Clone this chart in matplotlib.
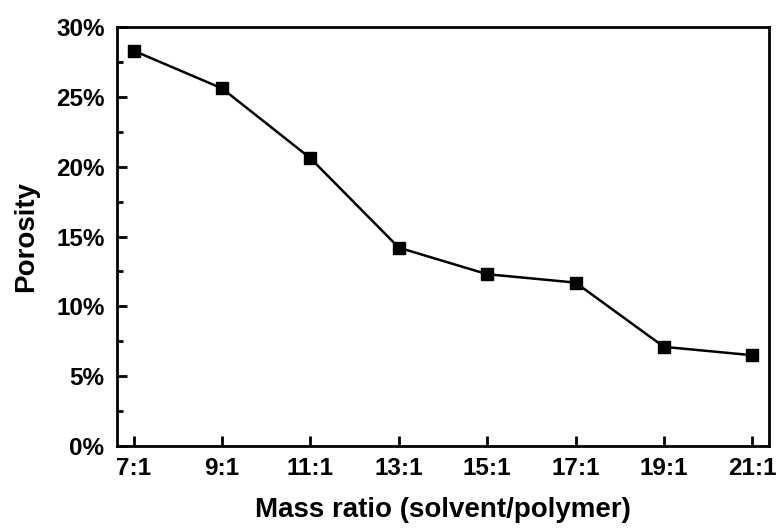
import matplotlib.pyplot as plt
from matplotlib.ticker import MultipleLocator, FuncFormatter

ratios = ["7:1", "9:1", "11:1", "13:1", "15:1", "17:1", "19:1", "21:1"]
porosity = [28.3, 25.6, 20.6, 14.2, 12.3, 11.7, 7.1, 6.5]

plt.rcParams['font.family'] = ['Liberation Sans', 'DejaVu Sans']
plt.rcParams['font.weight'] = 'bold'

fig = plt.figure(figsize=(7.78, 5.28), dpi=100)
ax = fig.add_axes([117 / 778, 1 - 446 / 528, (769 - 117) / 778, (446 - 27) / 528])

x = list(range(len(ratios)))
ax.plot(x, porosity, color='black', linewidth=1.8, marker='s', markersize=8.5)

ax.set_xlim(-0.19, 7.19)
ax.set_ylim(0, 30)
ax.set_xticks(x)
ax.set_xticklabels(ratios)
ax.yaxis.set_major_locator(MultipleLocator(5))
ax.yaxis.set_minor_locator(MultipleLocator(2.5))
ax.yaxis.set_major_formatter(FuncFormatter(lambda v, p: "{:.0f}%".format(v)))

ax.tick_params(axis='both', which='both', direction='in', labelsize=17.5, width=2)
ax.tick_params(axis='both', which='major', length=7)
ax.tick_params(axis='y', which='minor', length=4)
ax.tick_params(axis='x', pad=8)
ax.tick_params(axis='y', pad=9)
for s in ax.spines.values():
    s.set_linewidth(2)

ax.set_xlabel("Mass ratio (solvent/polymer)", fontsize=20, fontweight='bold', labelpad=12)
ax.set_ylabel("Porosity", fontsize=20, fontweight='bold', labelpad=12)

fig.savefig("out.png", dpi=100)
